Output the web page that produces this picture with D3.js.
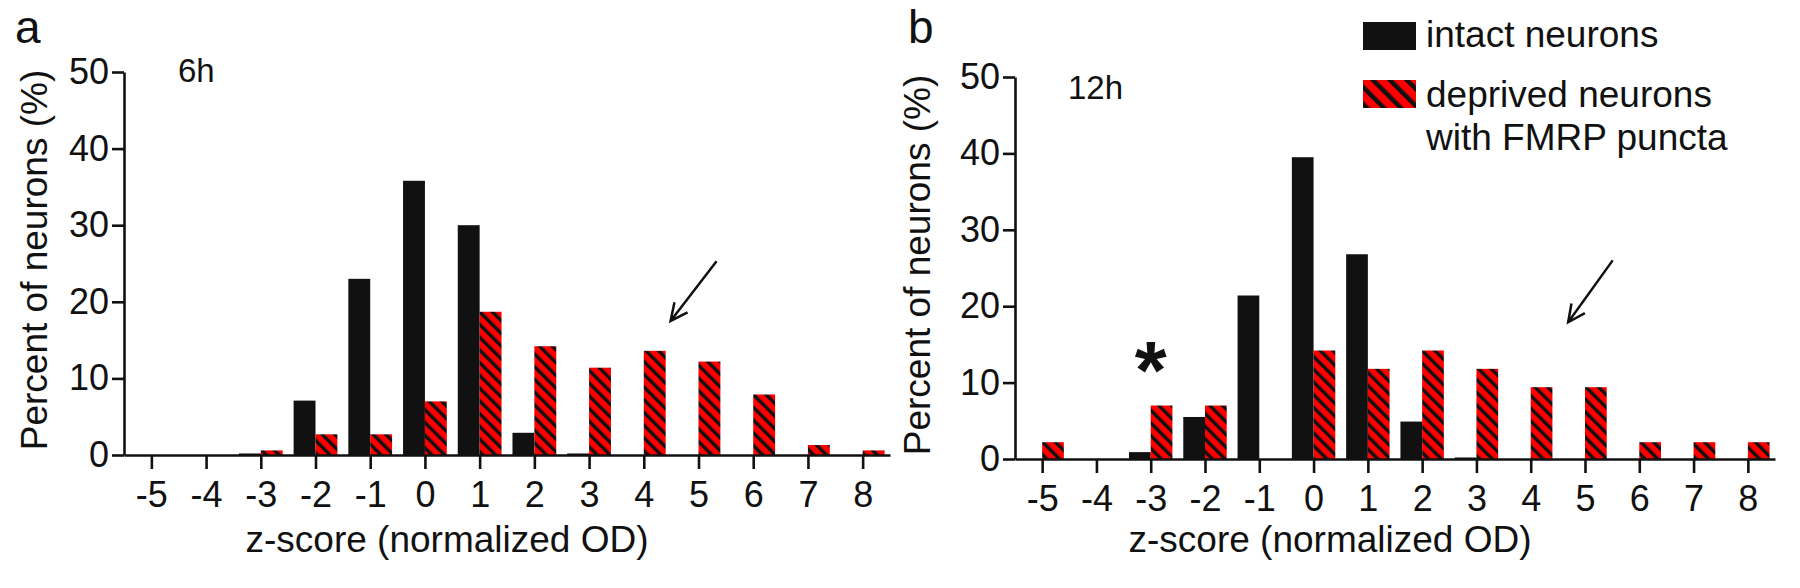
<!DOCTYPE html>
<html>
<head>
<meta charset="utf-8">
<script src="https://cdn.jsdelivr.net/npm/d3@7"></script>
<style>
  html, body { margin: 0; padding: 0; background: #fff; }
  svg text { font-family: "Liberation Sans", Arial, sans-serif; fill: #111; }
</style>
</head>
<body>
<svg id="fig" width="1800" height="588"></svg>
<script>
// bins of the z-score histogram
const zScores = [-5, -4, -3, -2, -1, 0, 1, 2, 3, 4, 5, 6, 7, 8];

// percent of neurons, 6h
const intact6h   = [0, 0, 0.2, 7.1, 23.0, 35.8, 30.0, 2.9, 0.2, 0, 0, 0, 0, 0];
const deprived6h = [0, 0, 0.6, 2.7, 2.7, 7.0, 18.7, 14.2, 11.4, 13.6, 12.2, 7.9, 1.3, 0.6];

// percent of neurons, 12h
const intact12h   = [0, 0, 0.9, 5.5, 21.4, 39.5, 26.8, 4.9, 0.2, 0, 0, 0, 0, 0];
const deprived12h = [2.2, 0, 7.0, 7.0, 0, 14.2, 11.8, 14.2, 11.8, 9.4, 9.4, 2.2, 2.2, 2.2];

const yTicks = [0, 10, 20, 30, 40, 50];
const seriesNames = ["intact neurons", "deprived neurons", "with FMRP puncta"];

const svg = d3.select("#fig");
const RED = "#ff0000";
const INK = "#111";

// diagonal hatch used for the deprived bars
const defs = svg.append("defs");
function hatch(id, size, lw) {
  const p = defs.append("pattern")
      .attr("id", id)
      .attr("patternUnits", "userSpaceOnUse")
      .attr("width", size)
      .attr("height", size)
      .attr("patternTransform", "rotate(-45)");
  p.append("rect").attr("width", size).attr("height", size).attr("fill", RED);
  p.append("rect").attr("x", 0).attr("y", 0).attr("width", lw).attr("height", size).attr("fill", INK);
}
hatch("stripes", 9, 3.4);
hatch("stripesLegend", 12, 4.5);

const panels = [
  {
    letter: "a", label: "6h", intact: intact6h, deprived: deprived6h,
    left: 124, right: 890, bottom: 455, top: 72,
    yTitleX: 47, yTitleY: 260, xTitleX: 447, labelX: 178, labelY: 82,
    letterX: 15, arrow: { from: [5.33, 25.3], to: [4.49, 17.5] }
  },
  {
    letter: "b", label: "12h", intact: intact12h, deprived: deprived12h,
    left: 1015, right: 1775, bottom: 459, top: 77,
    yTitleX: 930, yTitleY: 265, xTitleX: 1330, labelX: 1068, labelY: 99,
    letterX: 908, arrow: { from: [5.51, 26], to: [4.69, 17.9] },
    star: [-3, 13.2]
  }
];

function drawPanel(p) {
  const g = svg.append("g");

  const x = d3.scaleLinear().domain([-5.5, 8.5]).range([p.left, p.right]);
  const y = d3.scaleLinear().domain([0, 50]).range([p.bottom, p.top]);
  const bw = (x(1) - x(0)) * 0.4;

  g.append("g").selectAll("rect")
    .data(zScores.map((z, i) => ({ z, v: p.intact[i] })))
    .join("rect")
      .attr("x", d => x(d.z) - bw)
      .attr("y", d => y(d.v))
      .attr("width", bw)
      .attr("height", d => y(0) - y(d.v))
      .attr("fill", INK);

  g.append("g").selectAll("rect")
    .data(zScores.map((z, i) => ({ z, v: p.deprived[i] })))
    .join("rect")
      .attr("x", d => x(d.z))
      .attr("y", d => y(d.v))
      .attr("width", bw)
      .attr("height", d => y(0) - y(d.v))
      .attr("fill", "url(#stripes)");

  // plain hyphen for negatives, as in the figure
  const fmt = d => String(d);

  const xAxis = g.append("g")
      .attr("transform", `translate(0,${p.bottom})`)
      .call(d3.axisBottom(x).tickValues(zScores).tickFormat(fmt)
        .tickSize(14).tickSizeOuter(0).tickPadding(12));
  const yAxis = g.append("g")
      .attr("transform", `translate(${p.left},0)`)
      .call(d3.axisLeft(y).tickValues(yTicks).tickFormat(fmt)
        .tickSize(12).tickSizeOuter(0).tickPadding(3));

  [xAxis, yAxis].forEach(a => {
    a.select(".domain").attr("stroke", INK).attr("stroke-width", 2.6);
    a.selectAll(".tick line").attr("stroke", INK).attr("stroke-width", 2.6);
    a.selectAll(".tick text").attr("font-size", 36).attr("fill", INK)
      .attr("font-family", "Liberation Sans, Arial, sans-serif");
  });

  g.append("text")
      .attr("transform", `translate(${p.yTitleX},${p.yTitleY}) rotate(-90)`)
      .attr("text-anchor", "middle")
      .attr("font-size", 37)
      .text("Percent of neurons (%)");

  g.append("text")
      .attr("x", p.xTitleX)
      .attr("y", 552)
      .attr("text-anchor", "middle")
      .attr("font-size", 37)
      .text("z-score (normalized OD)");

  g.append("text")
      .attr("x", p.labelX)
      .attr("y", p.labelY)
      .attr("font-size", 33)
      .text(p.label);

  g.append("text")
      .attr("x", p.letterX)
      .attr("y", 43)
      .attr("font-size", 46)
      .text(p.letter);

  // open arrow pointing at the high z-score tail
  const [x1, y1] = [x(p.arrow.from[0]), y(p.arrow.from[1])];
  const [x2, y2] = [x(p.arrow.to[0]), y(p.arrow.to[1])];
  const ang = Math.atan2(y2 - y1, x2 - x1);
  const head = 19;
  g.append("path")
      .attr("d", `M${x1},${y1}L${x2},${y2}` +
        `M${x2 - head * Math.cos(ang - 0.45)},${y2 - head * Math.sin(ang - 0.45)}L${x2},${y2}` +
        `L${x2 - head * Math.cos(ang + 0.45)},${y2 - head * Math.sin(ang + 0.45)}`)
      .attr("fill", "none")
      .attr("stroke", INK)
      .attr("stroke-width", 2.5);

  if (p.star) {
    g.append("text")
        .attr("x", x(p.star[0]))
        .attr("y", y(p.star[1]) + 40)
        .attr("text-anchor", "middle")
        .attr("font-size", 82)
        .attr("font-weight", "bold")
        .text("*");
  }
}

panels.forEach(drawPanel);

// legend
const legend = svg.append("g");
legend.append("rect").attr("x", 1363).attr("y", 22).attr("width", 53).attr("height", 28).attr("fill", INK);
legend.append("rect").attr("x", 1363).attr("y", 80).attr("width", 53).attr("height", 28).attr("fill", "url(#stripesLegend)");
legend.selectAll("text")
  .data(seriesNames)
  .join("text")
    .attr("x", 1426)
    .attr("y", (d, i) => [47, 107, 150][i])
    .attr("font-size", 37)
    .text(d => d);
</script>
</body>
</html>
